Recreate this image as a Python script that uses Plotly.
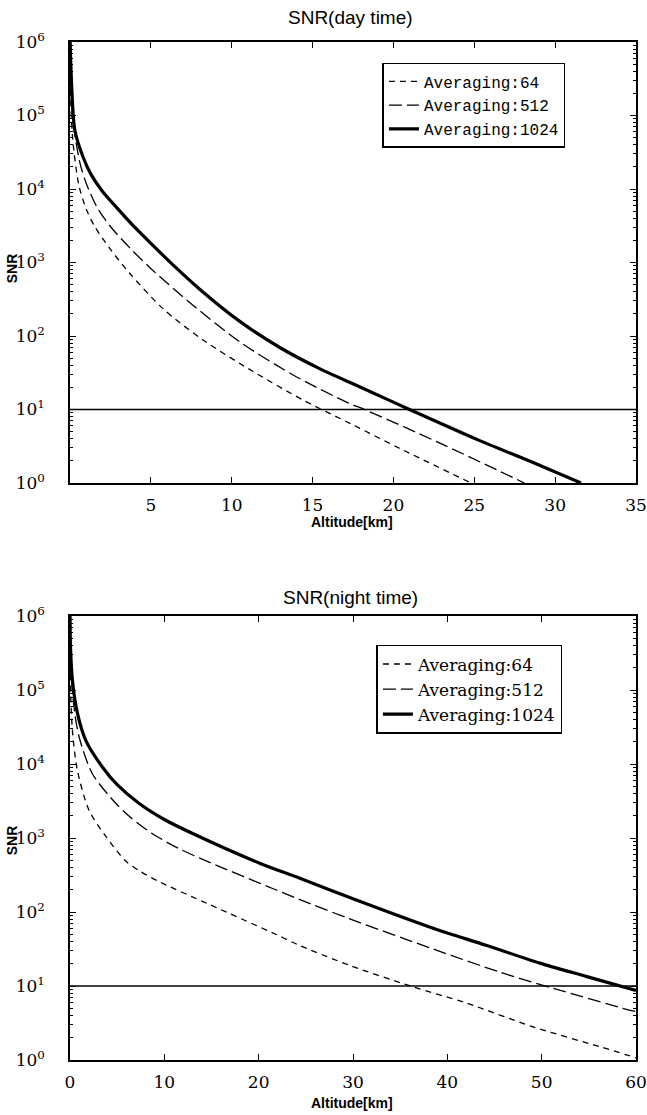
import plotly.graph_objects as go

# ---------------- data ----------------
DAY_ALT_64 = [0.0, 0.03, 0.17, 0.55, 1.0, 1.5, 2.5, 3.7, 5.76, 8.2, 11.3, 14.4, 17.5, 20.4, 24.8]
DAY_SNR_64 = [1.26e6, 2.0e5, 4.68e4, 1.12e4, 5.37e3, 3.16e3, 1.51e3, 708, 234, 89.1, 33.1, 13.5, 6.17, 2.95, 1.0]

DAY_ALT_512 = [0.0, 0.05, 0.2, 0.62, 1.0, 1.65, 2.5, 3.7, 4.94, 7.6, 10.5, 13.8, 17.1, 18.3, 22.8, 28.1]
DAY_SNR_512 = [1.26e6, 2.5e5, 7.9e4, 2.24e4, 1.2e4, 5.75e3, 3.09e3, 1.58e3, 851, 263, 83.2, 29.5, 12.6, 9.8, 3.55, 1.0]

DAY_ALT_1024 = [0.0, 0.05, 0.3, 0.8, 1.3, 2.0, 3.0, 4.0, 5.0, 6.5, 8.0, 10.5, 13.0, 15.4, 17.9, 21.2, 25.3, 28.6, 31.6]
DAY_SNR_1024 = [1.26e6, 5.0e5, 6.3e4, 2.75e4, 1.58e4, 9.33e3, 5.25e3, 3.02e3, 1.82e3, 871, 437, 158, 69.2, 36.3, 20.4, 9.55, 3.8, 1.91, 1.0]

NIGHT_ALT_64 = [0.0, 0.03, 0.25, 0.78, 2.0, 3.8, 5.9, 7.5, 9.45, 14.8, 21.8, 24.3, 29.6, 36.3, 42.0, 49.1, 56.2, 60.0]
NIGHT_SNR_64 = [1.26e6, 1.58e5, 2.88e4, 8.3e3, 2.4e3, 1.05e3, 490, 351, 257, 126, 50.1, 35.5, 19.1, 9.8, 5.9, 2.8, 1.51, 1.07]

NIGHT_ALT_512 = [0.0, 0.05, 0.42, 0.96, 2.37, 4.85, 6.5, 8.7, 11.5, 14.8, 21.8, 24.3, 29.6, 38.5, 45.5, 51.2, 58.6, 60.0]
NIGHT_SNR_512 = [1.26e6, 2.5e5, 5.9e4, 2.34e4, 7.4e3, 2.95e3, 1.86e3, 1.15e3, 724, 468, 200, 148, 81.3, 31.6, 15.5, 9.33, 5.0, 4.5]

NIGHT_ALT_1024 = [0.0, 0.05, 0.25, 0.78, 1.67, 3.43, 5.0, 7.3, 10.0, 13.0, 20.1, 24.3, 30.0, 38.5, 44.1, 49.8, 54.7, 60.0]
NIGHT_SNR_1024 = [1.26e6, 3.98e5, 1.38e5, 4.9e4, 2.09e4, 9.12e3, 5.25e3, 2.95e3, 1.78e3, 1.15e3, 457, 288, 151, 60.3, 35.5, 20.4, 13.5, 8.7]

THRESHOLD = 10
DAY_XRANGE = [0, 35]
NIGHT_XRANGE = [0, 60]
DAY_XTICKS = [5, 10, 15, 20, 25, 30, 35]
NIGHT_XTICKS = [0, 10, 20, 30, 40, 50, 60]
Y_TICKS = [1, 10, 100, 1000, 10000, 100000, 1000000]
Y_TICKTEXT = ["10<sup>0</sup>", "10<sup>1</sup>", "10<sup>2</sup>", "10<sup>3</sup>",
              "10<sup>4</sup>", "10<sup>5</sup>", "10<sup>6</sup>"]
Y_MINOR = [m * 10 ** k for k in range(6) for m in range(2, 10)]
NAMES = ["Averaging:64", "Averaging:512", "Averaging:1024"]

# ---------------- styles ----------------
STYLES = [dict(width=1.3, dash="6px,5px"),
          dict(width=1.3, dash="13px,5px"),
          dict(width=3.2, dash="solid")]

fig = go.Figure()

day = [(DAY_ALT_64, DAY_SNR_64), (DAY_ALT_512, DAY_SNR_512), (DAY_ALT_1024, DAY_SNR_1024)]
night = [(NIGHT_ALT_64, NIGHT_SNR_64), (NIGHT_ALT_512, NIGHT_SNR_512), (NIGHT_ALT_1024, NIGHT_SNR_1024)]

for (xs, ys), name, st in zip(day, NAMES, STYLES):
    fig.add_trace(go.Scatter(x=xs, y=ys, mode="lines", name=name,
                             line=dict(color="black", shape="spline", smoothing=0.8, **st),
                             xaxis="x", yaxis="y", legend="legend"))
fig.add_trace(go.Scatter(x=DAY_XRANGE, y=[THRESHOLD, THRESHOLD], mode="lines", showlegend=False,
                         line=dict(color="black", width=1.3), xaxis="x", yaxis="y"))

for (xs, ys), name, st in zip(night, NAMES, STYLES):
    fig.add_trace(go.Scatter(x=xs, y=ys, mode="lines", name=name,
                             line=dict(color="black", shape="spline", smoothing=0.8, **st),
                             xaxis="x2", yaxis="y2", legend="legend2"))
fig.add_trace(go.Scatter(x=NIGHT_XRANGE, y=[THRESHOLD, THRESHOLD], mode="lines", showlegend=False,
                         line=dict(color="black", width=1.3), xaxis="x2", yaxis="y2"))

tickfont = dict(family="DejaVu Serif", size=17, color="black")
common_x = dict(showline=True, linecolor="black", linewidth=1.5, mirror="ticks",
                ticks="inside", ticklen=6, tickcolor="black", tickwidth=1, automargin=False,
                showgrid=False, zeroline=False, tickfont=tickfont, ticklabelstandoff=6)
common_y = dict(type="log", range=[0, 6], showline=True, linecolor="black", linewidth=1.5,
                mirror="ticks", ticks="inside", ticklen=6, tickcolor="black", tickwidth=1,
                showgrid=False, zeroline=False, tickfont=tickfont, automargin=False,
                tickmode="array", tickvals=Y_TICKS, ticktext=Y_TICKTEXT, ticklabelstandoff=20,
                minor=dict(ticks="inside", ticklen=3, tickcolor="black", tickvals=Y_MINOR, showgrid=False))

fig.update_layout(
    width=647, height=1115,
    margin=dict(l=70, r=11, t=42, b=55, autoexpand=False),
    paper_bgcolor="white", plot_bgcolor="white",
    xaxis=dict(domain=[0, 1], anchor="y", range=DAY_XRANGE, tickmode="array", tickvals=DAY_XTICKS, **common_x),
    yaxis=dict(domain=[0.5668, 1], anchor="x", **common_y),
    xaxis2=dict(domain=[0, 1], anchor="y2", range=NIGHT_XRANGE, tickmode="array", tickvals=NIGHT_XTICKS, **common_x),
    yaxis2=dict(domain=[0, 0.4361], anchor="x2", **common_y),
    legend=dict(x=0.552, y=0.9794, xanchor="left", yanchor="top", bgcolor="white",
                bordercolor="black", borderwidth=1.5,
                font=dict(family="Liberation Mono", size=16, color="black"),
                tracegroupgap=0, itemwidth=30),
    legend2=dict(x=0.5414, y=0.4077, xanchor="left", yanchor="top", bgcolor="white",
                 bordercolor="black", borderwidth=1.5,
                 font=dict(family="DejaVu Serif", size=17, color="black"),
                 tracegroupgap=0, itemwidth=30),
    showlegend=True,
)

ann_font_title = dict(family="Liberation Sans", size=19, color="black")
ann_font_axis = dict(family="Liberation Sans", size=14, color="black")
annotations = [
    dict(text="SNR(day time)", x=0.496, y=1.0236, font=ann_font_title),
    dict(text="SNR(night time)", x=0.496, y=0.4548, font=ann_font_title),
    dict(text="<b>Altitude[km]</b>", x=0.499, y=0.5285, font=ann_font_axis),
    dict(text="<b>Altitude[km]</b>", x=0.499, y=-0.0422, font=ann_font_axis),
    dict(text="<b>SNR</b>", x=-0.102, y=0.778, textangle=-90, font=ann_font_axis),
    dict(text="<b>SNR</b>", x=-0.102, y=0.2161, textangle=-90, font=ann_font_axis),
]
for a in annotations:
    a.update(xref="paper", yref="paper", showarrow=False, xanchor="center", yanchor="middle")
fig.update_layout(annotations=annotations)

fig.write_html("out.html", config={"displayModeBar": False},
               post_script="document.body.style.margin='0';document.body.style.overflow='hidden';")
